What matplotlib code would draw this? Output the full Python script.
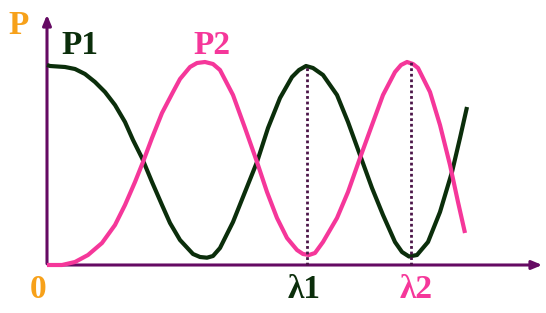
import matplotlib
matplotlib.use('Agg')
import matplotlib.pyplot as plt

# P1 / P2 curves (x = wavelength, y = power, arbitrary units)
p1_x = [0, 3, 18, 28, 38, 48, 58, 68, 78, 86, 95, 105, 115, 123, 133, 146, 153, 160, 166, 173,
        186, 198, 210, 221, 233, 245, 252, 259, 266, 276, 290, 301, 313, 325, 336, 348, 355,
        362, 370, 381, 393, 405, 413, 420]
p1_y = [200, 199, 198, 196, 191, 183, 173, 160, 143, 125, 107, 83, 60, 42, 25, 11, 8, 7.3, 9, 17,
        43, 73, 103, 137, 167, 188, 195, 199, 197, 190, 170, 143, 110, 77, 50, 23, 13,
        8.5, 10, 23, 53, 93, 127, 158]

p2_x = [0, 15, 28, 41, 55, 68, 78, 88, 96, 105, 115, 126, 133, 143, 150, 158, 166, 173, 186,
        198, 210, 220, 230, 240, 250, 256, 262, 268, 276, 290, 301, 313, 325, 336, 348, 354,
        360, 366, 371, 383, 393, 403, 411, 418]
p2_y = [0, 0, 3, 10, 22, 40, 60, 83, 103, 127, 152, 173, 186, 198, 202, 203, 201, 195, 170,
        137, 103, 73, 47, 27, 15, 11, 10, 12, 23, 47, 73, 107, 140, 170, 193, 200,
        203, 201, 197, 173, 140, 100, 63, 32]

lam1 = 260
lam2 = 364
lam1_top = 200
lam2_top = 203

green = '#0b2e0b'
pink = '#f5379a'
purple = '#650a63'
orange = '#f7a11a'
dotc = '#4b1448'

fig = plt.figure(figsize=(5.46, 3.13), dpi=100)
ax = fig.add_axes([0, 0, 1, 1])
ax.set_xlim(-47, 499)
ax.set_ylim(-48, 265)
ax.axis('off')

# axes with arrows
ax.annotate('', xy=(0, 253), xytext=(0, -1.5),
            arrowprops=dict(arrowstyle='-|>,head_length=0.6,head_width=0.25', color=purple, lw=2.2))
ax.annotate('', xy=(498, 0), xytext=(-1.5, 0),
            arrowprops=dict(arrowstyle='-|>,head_length=0.6,head_width=0.25', color=purple, lw=2.2))

ax.plot(p1_x, p1_y, color=green, lw=3, solid_capstyle='butt', solid_joinstyle='round', zorder=3)
ax.plot(p2_x, p2_y, color=pink, lw=3, solid_capstyle='butt', solid_joinstyle='round', zorder=4)

ax.plot([lam1, lam1], [0, lam1_top], color=dotc, lw=2, ls=(0, (1, 1)), zorder=5)
ax.plot([lam2, lam2], [0, lam2_top], color=dotc, lw=2, ls=(0, (1, 1)), zorder=5)

font = dict(family='Liberation Serif', fontweight='bold', ha='center', va='center')
ax.text(-28, 240, 'P', color=orange, fontsize=24, **font)
ax.text(33, 219, 'P1', color=green, fontsize=24, **font)
ax.text(165, 219, 'P2', color=pink, fontsize=24, **font)
ax.text(-9, -24, '0', color=orange, fontsize=24, **font)
ax.text(lam1 - 3, -25, 'λ1', color=green, fontsize=24, **font)
ax.text(lam2 + 5, -25, 'λ2', color=pink, fontsize=24, **font)

fig.savefig('out.png', dpi=100)
